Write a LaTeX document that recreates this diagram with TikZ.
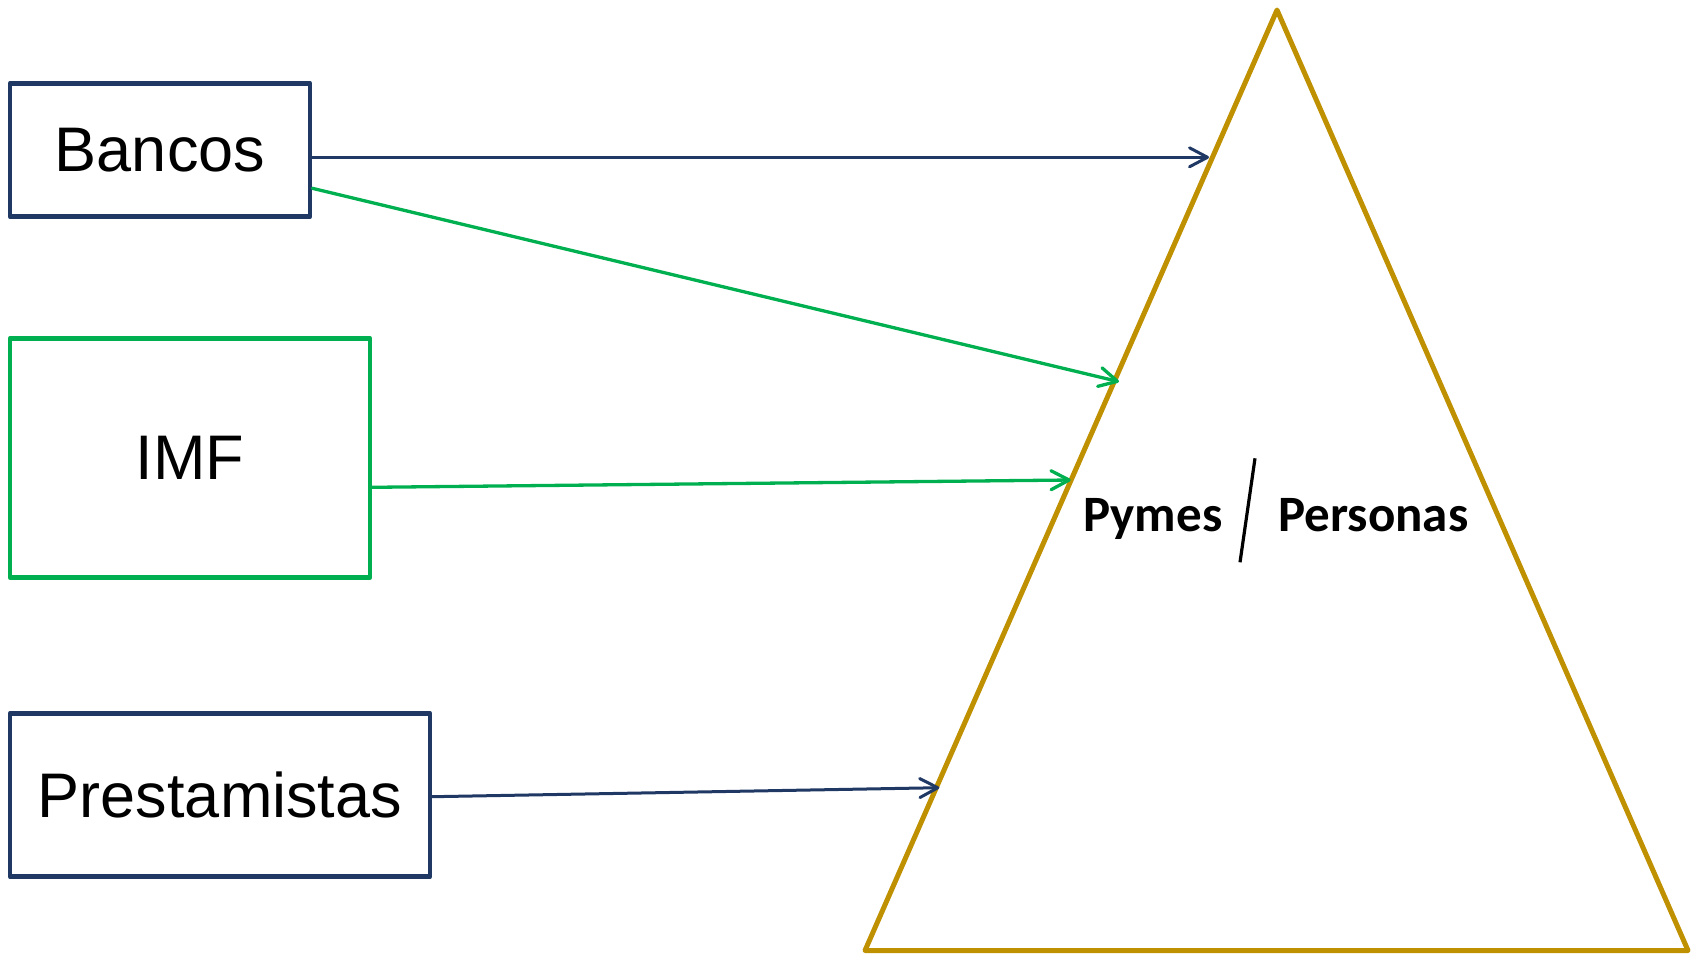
\documentclass[tikz,border=0pt]{standalone}
\usepackage{fontspec}
\setmainfont{Liberation Sans}
\newfontfamily\calib{Carlito}
\usetikzlibrary{arrows.meta}
\definecolor{navyc}{HTML}{1F3864}
\definecolor{grnc}{HTML}{00B050}
\definecolor{goldc}{HTML}{BF9000}
\begin{document}
\begin{tikzpicture}[x=1pt,y=-1pt,
  box/.style={draw,line width=4.6pt,inner sep=0pt,text=black,font=\fontsize{63}{70}\selectfont,line join=round},
  conn/.style={-{Straight Barb[length=18pt,width=19pt,line cap=round,line join=round]},line cap=round},
  navyconn/.style={conn,draw=navyc,line width=3pt},
  grnconn/.style={conn,draw=grnc,line width=3.3pt},
  lab/.style={font=\calib\bfseries\fontsize{51}{60}\selectfont,inner sep=0pt,anchor=base}]
\useasboundingbox (0,0) rectangle (1696,953);
\node[box,draw=navyc,minimum width=300pt,minimum height=133.4pt] (bancos) at (160,150) {Bancos};
\node[box,draw=grnc,minimum width=360pt,minimum height=239pt] (imf) at (190,457.8) {IMF};
\node[box,draw=navyc,minimum width=420pt,minimum height=163.4pt] (prest) at (220,795) {Prestamistas};
\draw[draw=goldc,line width=5pt,line join=round] (1277,10) coordinate (apex) -- (865,950.5) coordinate (bl) -- (1688,950.5) coordinate (br) -- cycle;
\coordinate (t1) at (1209,157.3);
\coordinate (t2) at (1119,381.7);
\coordinate (t3) at (1070.7,480);
\coordinate (t4) at (939.3,787.7);
\draw[navyconn] ([yshift=-7.3pt]bancos.east) -- (t1);
\draw[grnconn] ([yshift=-38.3pt]bancos.east) -- (t2);
\draw[grnconn] ([yshift=-29.5pt]imf.east) -- (t3);
\draw[navyconn] ([yshift=-1.7pt]prest.east) -- (t4);
\node[lab] (pymes) at (1152.8,531.7) {Pymes};
\node[lab] (personas) at (1373.3,531.7) {Personas};
\draw[line width=3.2pt] (1255,458.3) coordinate (s1) -- (1240,562.3) coordinate (s2);
\end{tikzpicture}
\end{document}
